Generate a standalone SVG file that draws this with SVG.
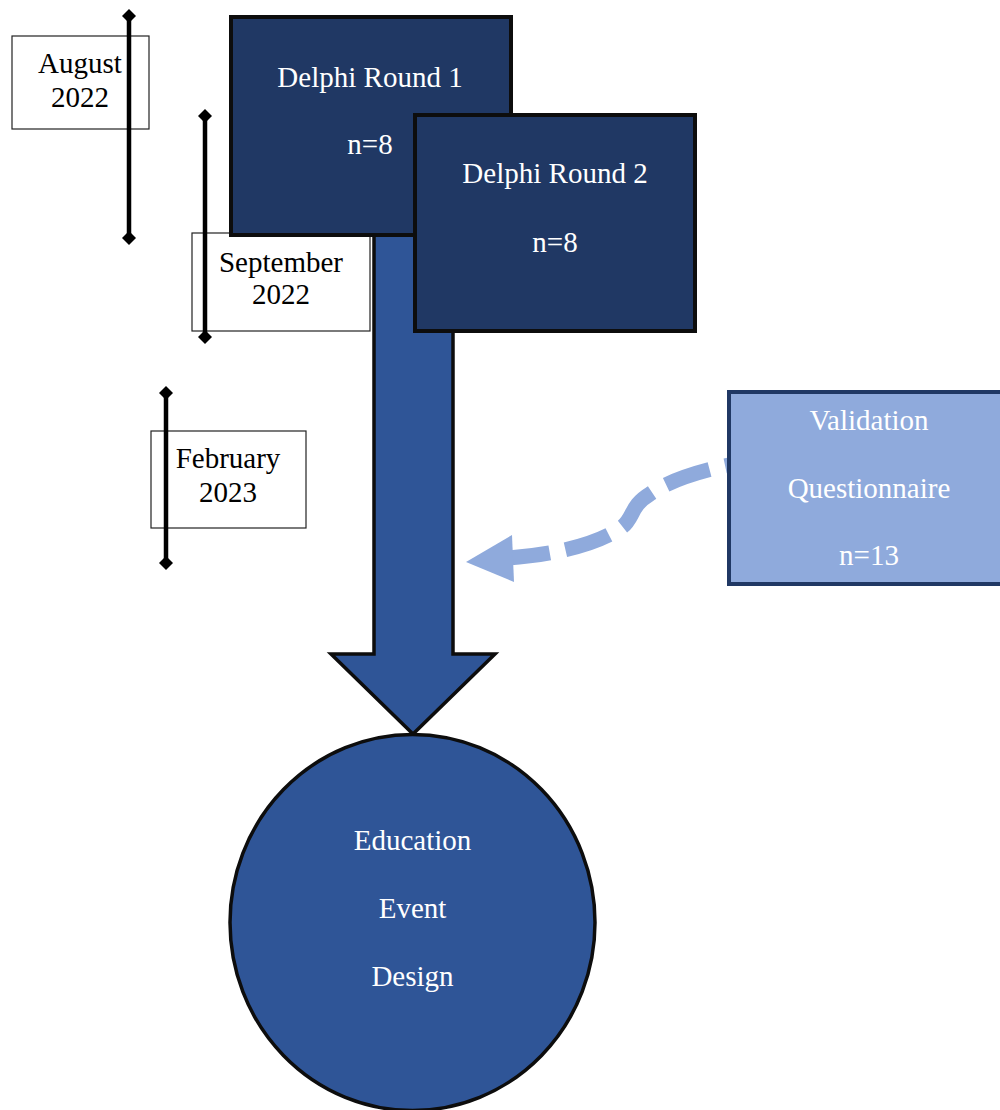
<svg xmlns="http://www.w3.org/2000/svg" width="1000" height="1110" viewBox="0 0 1000 1110">
  <style>
    .date-box { fill: #ffffff; stroke: #222222; stroke-width: 1.2; }
    .date-text { font-family: "Liberation Serif", "Times New Roman", serif; font-size: 29px; fill: #000000; text-anchor: middle; }
    .timeline { stroke: #000000; stroke-width: 4.5; }
    .tick { fill: #000000; }
    .delphi { fill: #203864; stroke: #0d0d0d; stroke-width: 4; }
    .flow { fill: #2F5597; stroke: #0d0d0d; stroke-width: 3.5; stroke-linejoin: miter; }
    .light { fill: #8FAADC; stroke: #203864; stroke-width: 4; }
    .label { font-family: "Liberation Serif", "Times New Roman", serif; font-size: 29px; fill: #ffffff; text-anchor: middle; }
    .dash { fill: none; stroke: #8FAADC; stroke-width: 15; stroke-dasharray: 46 16; stroke-dashoffset: 42; }
  </style>
  <defs>
    <polygon id="diamond" points="0,-7 7,0 0,7 -7,0"/>
  </defs>

  <!-- Timeline: August 2022 -->
  <g id="date-aug-2022">
    <rect class="date-box" x="12" y="36" width="137" height="93"/>
    <text class="date-text" x="80" y="73">August</text>
    <text class="date-text" x="80" y="107">2022</text>
    <line class="timeline" x1="129" y1="16" x2="129" y2="238"/>
    <use href="#diamond" class="tick" x="129" y="16"/>
    <use href="#diamond" class="tick" x="129" y="238"/>
  </g>

  <!-- Timeline: September 2022 -->
  <g id="date-sep-2022">
    <rect class="date-box" x="192" y="233" width="178" height="98"/>
    <text class="date-text" x="281" y="272">September</text>
    <text class="date-text" x="281" y="304">2022</text>
    <line class="timeline" x1="205" y1="116" x2="205" y2="337"/>
    <use href="#diamond" class="tick" x="205" y="116"/>
    <use href="#diamond" class="tick" x="205" y="337"/>
  </g>

  <!-- Timeline: February 2023 -->
  <g id="date-feb-2023">
    <rect class="date-box" x="151" y="431" width="155" height="97"/>
    <text class="date-text" x="228" y="468">February</text>
    <text class="date-text" x="228" y="502">2023</text>
    <line class="timeline" x1="166" y1="393" x2="166" y2="563"/>
    <use href="#diamond" class="tick" x="166" y="393"/>
    <use href="#diamond" class="tick" x="166" y="563"/>
  </g>

  <!-- Connectors: main downward block arrow and dashed feedback arrow -->
  <g id="connectors">
    <polygon id="main-arrow" class="flow" points="374,230 374,654 331,654 413,734 495,654 453,654 453,230"/>
    <path id="validation-arrow" class="dash" d="M 729 465 C 700 471, 668 481, 650 494 C 630 506, 634 518, 622 527 C 600 543, 560 554, 508 558"/>
    <polygon fill="#8FAADC" points="466,562 512,535 514,582"/>
  </g>

  <!-- Delphi Round 1 -->
  <g id="delphi-round-1">
    <rect class="delphi" x="231" y="17" width="280" height="218"/>
    <text class="label" x="370" y="87">Delphi Round 1</text>
    <text class="label" x="370" y="154">n=8</text>
  </g>

  <!-- Delphi Round 2 -->
  <g id="delphi-round-2">
    <rect class="delphi" x="415" y="115" width="280" height="216"/>
    <text class="label" x="555" y="183">Delphi Round 2</text>
    <text class="label" x="555" y="252">n=8</text>
  </g>

  <!-- Validation Questionnaire -->
  <g id="validation">
    <rect class="light" x="729" y="392" width="290" height="192"/>
    <text class="label" x="869" y="430">Validation</text>
    <text class="label" x="869" y="498">Questionnaire</text>
    <text class="label" x="869" y="565">n=13</text>
  </g>

  <!-- Education Event Design -->
  <g id="education-event-design">
    <ellipse class="flow" cx="412.5" cy="922.5" rx="182.5" ry="188"/>
    <text class="label" x="412.5" y="850">Education</text>
    <text class="label" x="412.5" y="918">Event</text>
    <text class="label" x="412.5" y="986">Design</text>
  </g>
</svg>
